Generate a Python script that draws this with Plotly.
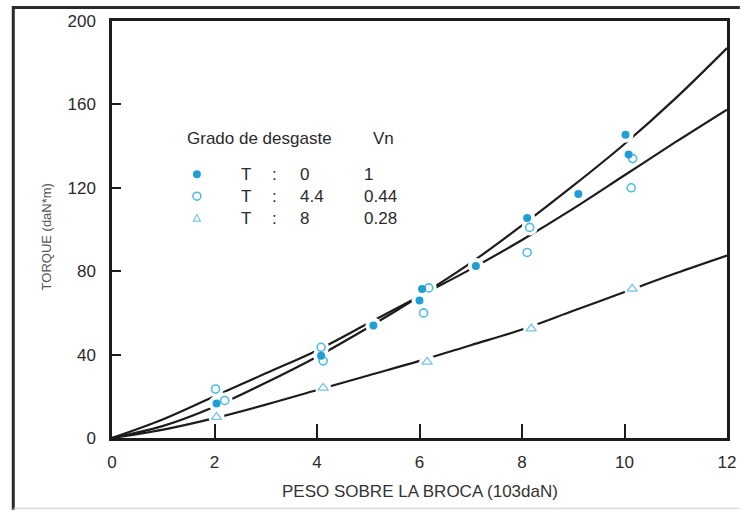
import plotly.graph_objects as go

# Fitted torque curves, sampled at whole units of bit weight
x_fit = [0, 1, 2, 3, 4, 5, 6, 7, 8, 9, 10, 11, 12]
fit_t0 = [0, 5.8, 15, 26.5, 39, 53, 68, 84, 102, 121, 141, 163, 187]
fit_t44 = [0, 9, 20, 31, 42, 55, 68, 81, 95, 110, 126, 142, 157.5]
fit_t8 = [0, 4, 9.5, 16, 23, 30, 37, 44.5, 52, 61, 70, 79, 87.5]

# Measured points per wear grade
t0_x = [2.04, 4.08, 5.1, 6.0, 6.05, 7.1, 8.1, 9.1, 10.02, 10.08]
t0_y = [16.5, 39.5, 54, 66, 71.5, 82.5, 105.5, 117, 145.5, 136]
t44_x = [2.02, 2.2, 4.08, 4.12, 6.18, 6.08, 8.15, 8.1, 10.16, 10.13]
t44_y = [23.5, 18, 43.5, 37, 72, 60, 101, 89, 134, 120]
t8_x = [2.04, 4.12, 6.15, 8.18, 10.15]
t8_y = [10, 24, 36.5, 52.5, 71.5]

x_ticks = [0, 2, 4, 6, 8, 10, 12]
y_ticks = [0, 40, 80, 120, 160, 200]

legend_title = "Grado de desgaste"
legend_vn_title = "Vn"
legend_grades = ["0", "4.4", "8"]
legend_vn = ["1", "0.44", "0.28"]

W, H = 748, 510
L, R, T, B = 112, 13, 19, 72
PW, PH = W - L - R, H - T - B

def px(x):
    return (x - L) / PW

def py(y):
    return (H - B - y) / PH

FILLED = "#1f9fd6"
OPEN = "#4fbbe4"
TRI = "#74c4e6"
INK = "#1c1c1c"
FONT = "Liberation Sans, Arial, sans-serif"

fig = go.Figure()

for ys in (fit_t0, fit_t44, fit_t8):
    fig.add_trace(go.Scatter(x=x_fit, y=ys, mode="lines", line_shape="spline",
                             line=dict(color=INK, width=2.2), hoverinfo="skip"))

# white halos break the curves around each measured point
fig.add_trace(go.Scatter(x=t0_x + t44_x + t8_x, y=t0_y + t44_y + t8_y, mode="markers",
                         marker=dict(size=16, color="white"), hoverinfo="skip"))

fig.add_trace(go.Scatter(x=t44_x, y=t44_y, mode="markers",
                         marker=dict(symbol="circle-open", size=8, color=OPEN,
                                     line=dict(width=1.6, color=OPEN))))
fig.add_trace(go.Scatter(x=t0_x, y=t0_y, mode="markers",
                         marker=dict(symbol="circle", size=8, color=FILLED)))
fig.add_trace(go.Scatter(x=t8_x, y=t8_y, mode="markers",
                         marker=dict(symbol="triangle-up-open", size=9, color=TRI,
                                     line=dict(width=1.3, color=TRI))))

annotations = []
shapes = []

def text(x, y, s, size=17, color="#2a2a2a", xanchor="left", angle=0):
    annotations.append(dict(x=px(x), y=py(y), xref="paper", yref="paper", text=s,
                            showarrow=False, xanchor=xanchor, yanchor="middle",
                            textangle=angle, font=dict(family=FONT, size=size, color=color)))

text(186, 137, legend_title)
text(374, 137, legend_vn_title)
rows_y = [173, 195, 217]
for ry, g, v in zip(rows_y, legend_grades, legend_vn):
    text(248, ry, "T", xanchor="center")
    text(277, ry, ":", xanchor="center")
    text(300, ry, g)
    text(365, ry, v)

# legend keys
shapes.append(dict(type="circle", xref="paper", yref="paper",
                   x0=px(194), x1=px(202), y0=py(177), y1=py(169),
                   fillcolor=FILLED, line=dict(width=0)))
shapes.append(dict(type="circle", xref="paper", yref="paper",
                   x0=px(194), x1=px(202), y0=py(199), y1=py(191),
                   line=dict(width=1.6, color=OPEN)))
shapes.append(dict(type="path", xref="paper", yref="paper",
                   path=f"M {px(194.5)} {py(220)} L {px(201.5)} {py(220)} L {px(198)} {py(213.5)} Z",
                   line=dict(width=1.2, color=TRI)))

# axis titles
text(424, 492, "PESO SOBRE LA BROCA (103daN)", size=17, xanchor="center", color="#333")
annotations.append(dict(x=px(36), y=py(236), xref="paper", yref="paper",
                        text="TORQUE (daN*m)", showarrow=False, textangle=-90,
                        font=dict(family=FONT, size=13, color="#555")))

# outer frame: left and top edges as one open path, light rule at the bottom
shapes.append(dict(type="path", xref="paper", yref="paper", layer="above",
                   path=f"M {px(12)},{py(H)} L {px(12)},{py(5.5)} L {px(W)},{py(5.5)}",
                   line=dict(color="#2a2a2a", width=3)))
shapes.append(dict(type="rect", xref="paper", yref="paper", layer="above",
                   x0=px(12), x1=px(W), y0=py(509), y1=py(508),
                   fillcolor="#cfcfcf", line=dict(width=0)))

axis_common = dict(showgrid=False, zeroline=False, showline=True, linecolor=INK,
                   linewidth=2.5, mirror=True, ticks="inside", tickcolor=INK,
                   tickwidth=2, ticklabeloverflow="allow",
                   tickfont=dict(family=FONT, size=17, color="#2a2a2a"))

fig.update_layout(
    width=W, height=H, margin=dict(l=L, r=R, t=T, b=B),
    plot_bgcolor="white", paper_bgcolor="white", showlegend=False,
    xaxis=dict(range=[0, 12], tickvals=x_ticks, ticklen=14, ticklabelstandoff=7, **axis_common),
    yaxis=dict(range=[0, 200], tickvals=y_ticks, ticklen=9, ticklabelstandoff=10, **axis_common),
    annotations=annotations, shapes=shapes,
)

fig.write_html("out.html")
